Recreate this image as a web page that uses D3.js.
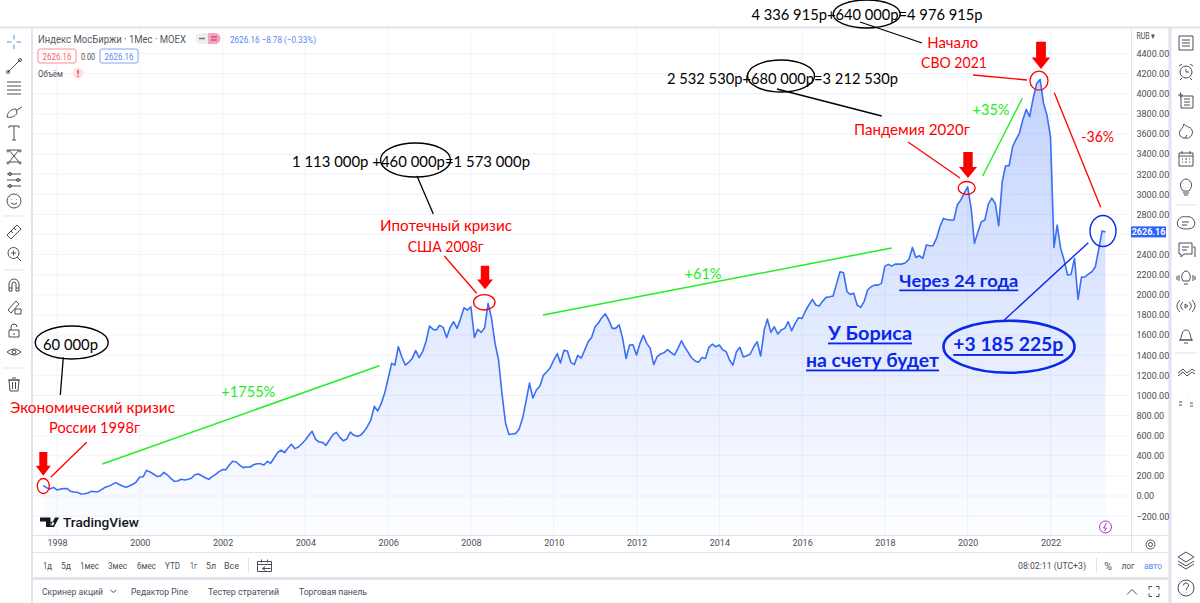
<!DOCTYPE html>
<html>
<head>
<meta charset="utf-8">
<script src="https://cdn.jsdelivr.net/npm/d3@7"></script>
<style>
  html, body { margin: 0; padding: 0; background: #fff; overflow: hidden; }
  text { font-family: Roboto, "Noto Sans", sans-serif; }
  .note text, text.note { font-family: Lato, "Noto Sans", sans-serif; }
</style>
</head>
<body>
<div id="chart"></div>
<script>
// monthly closes of the index, Sep 1997 .. May 2023
const closes = [
  103, 83, 70, 86,
  60, 70, 73, 73, 46, 40, 36, 20, 23, 30, 46, 43,
  43, 66, 86, 96, 113, 133, 116, 99, 86, 99, 116, 139,
  189, 192, 255, 239, 219, 195, 199, 235, 209, 176, 146, 149,
  166, 159, 166, 176, 212, 219, 202, 182, 166, 192, 215, 242,
  262, 262, 308, 345, 338, 308, 282, 288, 288, 311, 321, 321,
  308, 345, 325, 378, 431, 457, 431, 477, 514, 471, 487, 520,
  557, 603, 643, 563, 537, 533, 504, 557, 610, 633, 583, 550,
  567, 636, 606, 593, 603, 640, 689, 755, 891, 845, 921, 1021,
  1170, 1319, 1302, 1484, 1385, 1302, 1329, 1368, 1445, 1375, 1435, 1537,
  1690, 1657, 1650, 1697, 1677, 1577, 1673, 1733, 1667, 1759, 1872, 1849,
  1882, 1577, 1657, 1627, 1673, 1915, 1766, 1518, 1352, 1021, 729, 613,
  616, 623, 663, 772, 938, 1123, 974, 1054, 1093, 1199, 1236, 1276,
  1352, 1415, 1322, 1448, 1441, 1329, 1306, 1398, 1372, 1451, 1534, 1577,
  1683, 1723, 1773, 1812, 1750, 1667, 1667, 1703, 1567, 1368, 1501, 1504,
  1402, 1518, 1597, 1518, 1468, 1306, 1385, 1412, 1425, 1455, 1425, 1402,
  1468, 1544, 1484, 1428, 1375, 1342, 1329, 1378, 1368, 1478, 1511, 1484,
  1501, 1451, 1438, 1352, 1302, 1435, 1478, 1382, 1395, 1412, 1484, 1534,
  1392, 1650, 1759, 1627, 1683, 1610, 1650, 1667, 1733, 1643, 1716, 1773,
  1766, 1842, 1899, 1955, 1899, 1889, 1938, 1975, 1981, 1988, 2114, 2230,
  2220, 2031, 2005, 2015, 1899, 1875, 1932, 2048, 2081, 2097, 2097, 2114,
  2286, 2303, 2286, 2306, 2306, 2306, 2319, 2353, 2472, 2372, 2389, 2363,
  2495, 2488, 2488, 2561, 2677, 2760, 2750, 2744, 2744, 2893, 2942, 3009,
  3075, 2860, 2512, 2628, 2727, 2744, 2903, 2962, 2909, 2687, 3125, 3284,
  3284, 3473, 3542, 3605, 3738, 3844, 3771, 3953, 4102, 4142, 3903, 3787,
  3572, 2472, 2694, 2462, 2346, 2197, 2203, 2363, 1955, 2174, 2180, 2207,
  2230, 2280, 2445, 2635, 2626.16
];
const priceTicks = d3.range(-200, 4401, 200);
const yearTicks = d3.range(1998, 2023, 2);
const lastPrice = 2626.16;
const rangeButtons = ["1д", "5д", "1мес", "3мес", "6мес", "YTD", "1г", "5л", "Все"];
const bottomTabs = ["Скринер акций", "Редактор Pine", "Тестер стратегий", "Торговая панель"];

const width = 1200, height = 603;
const svg = d3.select("#chart").append("svg")
  .attr("width", width).attr("height", height)
  .style("display", "block");

const BLUE = "#2962ff", RED = "#ff0000", GREEN = "#22ee22", INK = "#0a28e8", UI = "#4a4e5a", BORDER = "#e0e3eb";

const x = d3.scaleTime().domain([new Date(1998, 0, 1), new Date(2022, 0, 1)]).range([57, 1050.5]);
const y = d3.scaleLinear().domain([0, 4400]).range([496, 53.5]);
const series = closes.map((c, i) => ({ date: new Date(1997, 8 + i, 1), close: c }));

// ---- panels
svg.append("rect").attr("x", 0).attr("y", 26.5).attr("width", width).attr("height", 2).attr("fill", BORDER);
svg.append("rect").attr("x", 31).attr("y", 27).attr("width", 2).attr("height", 576).attr("fill", BORDER);
svg.append("rect").attr("x", 1168.5).attr("y", 27).attr("width", 3).attr("height", 576).attr("fill", BORDER);
svg.append("rect").attr("x", 33).attr("y", 577).attr("width", 1136).attr("height", 3).attr("fill", BORDER);

// ---- grid
const gGrid = svg.append("g").attr("stroke", "#f0f3fa");
gGrid.selectAll(".h").data(priceTicks).join("line").attr("class", "h")
  .attr("x1", 33).attr("x2", 1131).attr("y1", d => y(d)).attr("y2", d => y(d));
gGrid.selectAll(".v").data(yearTicks).join("line").attr("class", "v")
  .attr("x1", d => x(new Date(d, 0, 1))).attr("x2", d => x(new Date(d, 0, 1))).attr("y1", 28).attr("y2", 535);

// ---- area and line
const defs = svg.append("defs");
const grad = defs.append("linearGradient").attr("id", "fade")
  .attr("gradientUnits", "userSpaceOnUse").attr("x1", 0).attr("x2", 0).attr("y1", y(4142)).attr("y2", 535);
grad.append("stop").attr("offset", 0).attr("stop-color", BLUE).attr("stop-opacity", 0.28);
grad.append("stop").attr("offset", 1).attr("stop-color", BLUE).attr("stop-opacity", 0.01);

svg.append("path").datum(series).attr("fill", "url(#fade)")
  .attr("d", d3.area().x(d => x(d.date)).y0(535).y1(d => y(d.close)));
svg.append("path").datum(series).attr("fill", "none").attr("stroke", "#3a6ff5").attr("stroke-width", 1.6)
  .attr("stroke-linejoin", "round")
  .attr("d", d3.line().x(d => x(d.date)).y(d => y(d.close)));

// ---- axes
const axisY = svg.append("g").attr("transform", "translate(1131.5,0)")
  .call(d3.axisRight(y).tickValues(priceTicks).tickSize(0).tickPadding(5)
    .tickFormat(d => (d < 0 ? "−" : "") + Math.abs(d).toFixed(2)));
axisY.select(".domain").attr("stroke", BORDER).attr("d", "M0,28V553");
axisY.selectAll("text").attr("font-size", 9).attr("fill", UI).style("font-family", "Liberation Sans Narrow, Roboto");
// the 2600 label sits under the last price tag
axisY.selectAll(".tick").filter(d => d === 2600).select("text").remove();

const axisX = svg.append("g").attr("transform", "translate(0,535)")
  .call(d3.axisBottom(x).tickValues(yearTicks.map(d => new Date(d, 0, 1))).tickSize(0).tickPadding(5)
    .tickFormat(d3.timeFormat("%Y")));
axisX.select(".domain").attr("stroke", BORDER).attr("d", "M33,0.5H1168");
axisX.selectAll("text").attr("font-size", 9).attr("fill", UI).style("font-family", "Liberation Sans Narrow, Roboto");
svg.append("line").attr("x1", 33).attr("x2", 1168).attr("y1", 552.5).attr("y2", 552.5).attr("stroke", BORDER);

svg.append("rect").attr("x", 1131).attr("y", y(lastPrice) - 5.5).attr("width", 35).attr("height", 11).attr("fill", BLUE);
svg.append("text").attr("x", 1148.5).attr("y", y(lastPrice) + 3.2).attr("text-anchor", "middle")
  .attr("font-size", 9).attr("font-weight", 700).attr("fill", "#fff").text(lastPrice.toFixed(2));

// ---- plain ui text
function ui(tx, ty, str, size, color, anchor, w) {
  const t = svg.append("text").attr("x", tx).attr("y", ty).attr("font-size", size || 9.5)
    .attr("fill", color || UI).attr("text-anchor", anchor || "start").text(str);
  if (w) t.attr("textLength", w).attr("lengthAdjust", "spacingAndGlyphs");
  return t;
}
ui(1146, 39, "RUB ▾", 8.5, UI, "middle", 19);

ui(38, 42.5, "Индекс МосБиржи · 1Мес · MOEX", 10.5, "#555a66", "start", 148);
svg.append("rect").attr("x", 195.5).attr("y", 33).attr("width", 25).attr("height", 11).attr("rx", 5.5).attr("fill", "#eceef2");
svg.append("path").attr("d", "M208,33H215a5.5,5.5 0 0 1 0,11H208Z").attr("fill", "#f2a6bf");
svg.append("path").attr("d", "M199,38.5H205").attr("stroke", "#777").attr("stroke-width", 1.5);
svg.append("path").attr("d", "M211,37H217M211,40H217").attr("stroke", "#c2185b");
ui(230, 42.5, "2626.16 −8.78 (−0.33%)", 9.5, "#5b86f5", "start", 86);

svg.append("rect").attr("x", 38).attr("y", 49).attr("width", 38).attr("height", 14).attr("rx", 2).attr("fill", "#fff").attr("stroke", "#ff8a8f");
ui(57, 59.5, "2626.16", 9, "#f0616d", "middle", 29);
ui(81, 59.5, "0.00", 8.5, UI, "start", 14);
svg.append("rect").attr("x", 100).attr("y", 49).attr("width", 38).attr("height", 14).attr("rx", 2).attr("fill", "#fff").attr("stroke", "#82a2ff");
ui(119, 59.5, "2626.16", 9, "#5b86f5", "middle", 29);
ui(38, 77, "Объём", 9, UI, "start", 25);
svg.append("circle").attr("cx", 78).attr("cy", 73).attr("r", 5.5).attr("fill", "#fde3e6");
ui(78, 76.5, "!", 9.5, "#ee3344", "middle").attr("font-weight", 700);

// time range bar
const rangeX = [43, 61, 80, 108, 137, 165, 190, 206, 224];
const rangeW = [9, 10, 19, 19, 19, 15, 7, 10, 15];
rangeButtons.forEach((b, i) => ui(rangeX[i], 569, b, 9.5, UI, "start", rangeW[i]));
svg.append("line").attr("x1", 248.5).attr("x2", 248.5).attr("y1", 558).attr("y2", 572).attr("stroke", BORDER);
ui(1018, 569, "08:02:11 (UTC+3)", 9.5, UI, "start", 68);
svg.append("line").attr("x1", 1096.5).attr("x2", 1096.5).attr("y1", 558).attr("y2", 572).attr("stroke", BORDER);
ui(1108, 569.5, "%", 10.5, UI, "middle");
ui(1128, 569, "лог", 9.5, UI, "middle", 13);
ui(1153, 569, "авто", 9.5, "#5b86f5", "middle", 18);

// bottom tabs
const tabX = [42, 131, 208, 299], tabW = [61, 57, 71, 68];
bottomTabs.forEach((b, i) => ui(tabX[i], 595, b, 9.5, UI, "start", tabW[i]));
function icon(d, tx, ty, color, sw) {
  return svg.append("path").attr("transform", `translate(${tx},${ty})`).attr("d", d)
    .attr("fill", "none").attr("stroke", color || UI).attr("stroke-width", sw || 1);
}
icon("M-3,-1.5L0,1L3,-1.5", 113.5, 591.5);
icon("M-5,3L0,-2L5,3", 1132, 591.5, UI, 1);
icon("M-5,-2V-5H-2M2,-5H5V-2M5,2V5H2M-2,5H-5V2", 1154, 591.5);
icon("M-7,-4H7V6H-7ZM-7,-1H7M-3,-6V-3M3,-6V-3M-2,3H6M-2,3L1,1M-2,3L1,5", 264.5, 565.5);

// gear
svg.append("circle").attr("cx", 1150.5).attr("cy", 544.5).attr("r", 2).attr("fill", "none").attr("stroke", UI);
svg.append("circle").attr("cx", 1150.5).attr("cy", 544.5).attr("r", 4.5).attr("fill", "none").attr("stroke", UI);

// logo
svg.append("path").attr("d", "M40,517.5H50.5V527H46V521.5H40ZM52,521.5a2,2 0 1 0 0.01,0M55,517.5H59L54,527H50Z").attr("fill", "#131722");
ui(63, 527, "TradingView", 13, "#131722", "start", 76).attr("font-weight", 500);

// lightning badge
svg.append("circle").attr("cx", 1105.5).attr("cy", 527).attr("r", 6).attr("fill", "#fff").attr("stroke", "#b52fc4").attr("stroke-width", 1);
icon("M1,-4L-2,1H1L-1,4", 1105.5, 527, "#b52fc4", 1);

// ---- toolbars (rough icons)
const leftIcons = [
  [42, "M-7,0H-2.5M2.5,0H7M0,-7V-2.5M0,2.5V7", "#5b86f5"],
  [66, "M-6,6L6,-6M-6,6m-1.5,0a1.5,1.5 0 1 0 3,0a1.5,1.5 0 1 0 -3,0M6,-6m-1.5,0a1.5,1.5 0 1 0 3,0a1.5,1.5 0 1 0 -3,0"],
  [88, "M-7,-6H7M-7,-2H7M-7,2H7M-7,6H7"],
  [112, "M-7,5C-6,-2 -1,-3 2,-3L3,1C1,5 -4,6 -7,5ZM3,-2L8,-5"],
  [133, "M-5,-5V-7H5V-5M0,-7V7M-2,7H2"],
  [156, "M-5,-6L5,6M5,-6L-5,6M-5,-6L5,-6M-5,6H5M-6,-6a1,1 0 1 0 .01,0M6,-6a1,1 0 1 0 .01,0M-6,6a1,1 0 1 0 .01,0M6,6a1,1 0 1 0 .01,0"],
  [180, "M-7,-6H7M-7,0H7M-7,6H7M-4,-6m-1.5,0a1.5,1.5 0 1 0 3,0a1.5,1.5 0 1 0 -3,0M-4,6m-1.5,0a1.5,1.5 0 1 0 3,0a1.5,1.5 0 1 0 -3,0M4,0m-1.5,0a1.5,1.5 0 1 0 3,0a1.5,1.5 0 1 0 -3,0"],
  [201, "M-7,0a7,7 0 1 0 14,0a7,7 0 1 0 -14,0M-3,2Q0,5 3,2M-2.5,-2V-1.5M2.5,-2V-1.5"],
  [232, "M-7,3L3,-7L7,-3L-3,7ZM-3,-1L-1,1M0,-4L2,-2"],
  [254, "M-6,-1a5.5,5.5 0 1 0 11,0a5.5,5.5 0 1 0 -11,0M3,3L7,7M-3,-1H2M-.5,-3.5V1.5"],
  [285, "M-5,6V-1a5,5 0 0 1 10,0V6H2V-1a2,2 0 0 0 -4,0V6ZM-5,3H-2M2,3H5"],
  [307, "M-6,3L2,-6L5,-3L-3,6ZM1,2H7V7H1Z"],
  [331, "M-5,-1H5V6H-5ZM-3,-1V-4a3,3 0 0 1 6,0M0,2V4"],
  [352, "M-7,0Q0,-6 7,0Q0,6 -7,0M-2,0a2,2 0 1 0 4,0a2,2 0 1 0 -4,0"],
  [384, "M-5,-4H5L4,7H-4ZM-6,-4H6M-2,-6H2M-1.5,-2V5M1.5,-2V5"]
];
leftIcons.forEach(d => icon(d[1], 14, d[0], d[2] || UI, 1));
[216, 270, 368].forEach(d => svg.append("line").attr("x1", 3).attr("x2", 25).attr("y1", d).attr("y2", d).attr("stroke", BORDER));

const rightIcons = [
  [43, "M-7,-7H7V7H-7ZM-4,-3H4M-4,0H4M-4,3H4"],
  [72, "M-6,0a6,6 0 1 0 12,0a6,6 0 1 0 -12,0M0,-3V0H3M-7,-6L-4,-8M7,-6L4,-8M-4,6L-6,8M4,6L6,8"],
  [101, "M-5,-5H7V7H-5ZM-2,-2H4M-2,1H4M-2,4H4M-8,-6H-3M-5.5,-8.5V-3.5"],
  [131, "M-2,-7C-1,-4 4,-5 6,-1C8,4 3,8 0,7C-5,8 -8,3 -6,0C-5,-2 -3,-3 -2,-7M-1,7L1,4"],
  [159, "M-7,-6H7V7H-7ZM-7,-3H7M-4,0H-3M-1,0H1M3,0H4M-4,3H-3M-1,3H1M3,3H4M-4,-8V-5M4,-8V-5"],
  [187, "M-3,4C-9,-3 -3,-8 0,-8C3,-8 9,-3 3,4ZM-3,6H3M-2,8H2"],
  [223, "M-8,3C-11,-3 -4,-8 0,-6C5,-8 11,-2 8,3C7,7 -6,7 -8,3ZM-4,-1H3M-4,2H1"],
  [250, "M-7,-7H6V4H-2L-5,7V4H-7ZM-4,-3H3M-4,0H1M7,-3H9V7"],
  [278, "M-3,3C-6,-2 -3,-7 0,-7C3,-7 6,-2 3,3ZM-2,6H2M-7,-3V3M-9,-2V2M7,-3V3M9,-2V2"],
  [306, "M-6,-6C-10,-2 -10,2 -6,6M6,-6C10,-2 10,2 6,6M-3,-4C-6,-1 -6,1 -3,4M3,-4C6,-1 6,1 3,4M-1,-2L2,0L-1,2Z"],
  [336, "M-6,4C-4,2 -5,-6 0,-6C5,-6 4,2 6,4ZM-7,4H7M-2,7H2"],
  [372, "M-8,1L-3,-3L1,1L6,-3L9,-1M-8,4L-3,0L1,4L6,0L9,2"],
  [400, "M-7,5H-4M-7,2H-4M0,-6h.1M3,-6h.1M7,-6h.1M0,-3h.1M3,-3h.1M3,0h.1M0,0h.1M4,3H7M4,6H7"],
  [560, "M0,-8L8,-3L0,2L-8,-3ZM-8,1L0,6L8,1M-8,4L0,9L8,4"],
  [588, "M-8,0a8,8 0 1 0 16,0a8,8 0 1 0 -16,0M-2.5,-2.5a2.5,2.5 0 1 1 3.5,2.3L0,2M0,4.5V5"]
];
rightIcons.forEach(d => icon(d[1], 1186, d[0]));
[205, 353].forEach(d => svg.append("line").attr("x1", 1175).attr("x2", 1197).attr("y1", d).attr("y2", d).attr("stroke", BORDER));

// ---- hand drawn notes on top of the chart
const gNote = svg.append("g").attr("class", "note");
function note(cx, cy, str, w, size, color, opt) {
  const t = gNote.append("text").attr("x", cx).attr("y", cy).attr("text-anchor", "middle")
    .attr("dominant-baseline", "central").attr("font-size", size).attr("fill", color)
    .attr("textLength", w).attr("lengthAdjust", "spacingAndGlyphs").text(str);
  if (opt) t.attr("font-weight", 700).style("text-decoration", "underline");
}
function seg(x1, y1, x2, y2, color, sw) {
  gNote.append("line").attr("x1", x1).attr("y1", y1).attr("x2", x2).attr("y2", y2)
    .attr("stroke", color).attr("stroke-width", sw || 1.3);
}
function oval(cx, cy, rx, ry, color, sw) {
  gNote.append("ellipse").attr("cx", cx).attr("cy", cy).attr("rx", rx).attr("ry", ry)
    .attr("fill", "none").attr("stroke", color).attr("stroke-width", sw || 1.3);
}
function arrow(cx, top, tip, shaft, head) {
  const neck = tip - (tip - top) * 0.42;
  gNote.append("path").attr("fill", RED)
    .attr("d", `M${cx - shaft},${top}H${cx + shaft}V${neck}H${cx + head}L${cx},${tip}L${cx - head},${neck}H${cx - shaft}Z`);
}

// 1998
oval(71.7, 342.5, 36.5, 16.5, "#000", 1.4);
note(70.5, 344, "60 000р", 55, 15, "#000");
seg(63.3, 357.3, 60.3, 395, "#000");
note(92.5, 407, "Экономический кризис", 165, 15, RED);
note(94.5, 427, "России 1998г", 91, 15, RED);
seg(86.7, 442.3, 50.7, 477.3, RED);
arrow(43.3, 452, 475.7, 4, 7.5);
oval(43.3, 486, 6, 7.5, RED);
seg(102.3, 464, 379.3, 365.7, GREEN, 1.5);
note(248.3, 391, "+1755%", 54, 15, GREEN);

// 2008
note(411, 161, "1 113 000р +460 000р=1 573 000р", 238, 15, "#000");
oval(415.5, 160, 35, 17, "#000", 1.4);
seg(417, 176, 433.3, 214, "#000");
note(446, 225, "Ипотечный кризис", 132, 15, RED);
note(445.7, 245.5, "США 2008г", 76, 15, RED);
seg(444.3, 256, 476.7, 293.3, RED);
arrow(485, 265.7, 289.3, 4.2, 8);
oval(484.3, 302.3, 10.7, 7.7, RED);
seg(543, 315, 891.7, 248, GREEN, 1.5);
note(703, 273, "+61%", 37, 15, GREEN);

// 2020
note(782.5, 77.5, "2 532 530р+680 000р=3 212 530р", 231, 15, "#000");
oval(781, 76, 33.5, 16, "#000", 1.4);
seg(777, 89, 881.7, 116, "#000");
note(912, 128.5, "Пандемия 2020г", 116, 15, RED);
seg(908, 142, 960, 178, RED);
arrow(968, 152, 178, 4.7, 9);
oval(966.7, 188, 8.5, 6.5, RED);
seg(982.7, 176, 1022.3, 98.3, GREEN, 1.4);
note(991, 108.5, "+35%", 37, 15, GREEN);

// 2021
note(867, 13.5, "4 336 915р+640 000р=4 976 915р", 231, 15, "#000");
oval(866.7, 14, 33.5, 14, "#000", 1.4);
seg(860, 22, 922, 43, "#000");
note(952.7, 41.5, "Начало", 51, 15, RED);
note(954, 61.5, "СВО 2021", 66, 15, RED);
seg(973, 75, 1027, 80, RED);
arrow(1041, 41.7, 69, 4.9, 9.2);
oval(1039, 80.7, 9, 9.5, RED);
seg(1054.3, 92.7, 1100.7, 207.3, RED);
note(1097.7, 135.5, "-36%", 33, 15, RED);

// now
oval(1103, 231, 13, 15.5, INK, 1.4);
seg(1088.3, 242.7, 1004.3, 320, INK, 1.4);
oval(1009, 346.7, 65.5, 26, INK, 2.6);
note(1008.3, 343.5, "+3 185 225р", 110, 19, INK, true);
note(958.8, 280, "Через 24 года", 119, 17, INK, true);
note(870, 332.5, "У Бориса", 84, 18.5, INK, true);
note(872.5, 359.5, "на счету будет", 133, 18.5, INK, true);
</script>
</body>
</html>
